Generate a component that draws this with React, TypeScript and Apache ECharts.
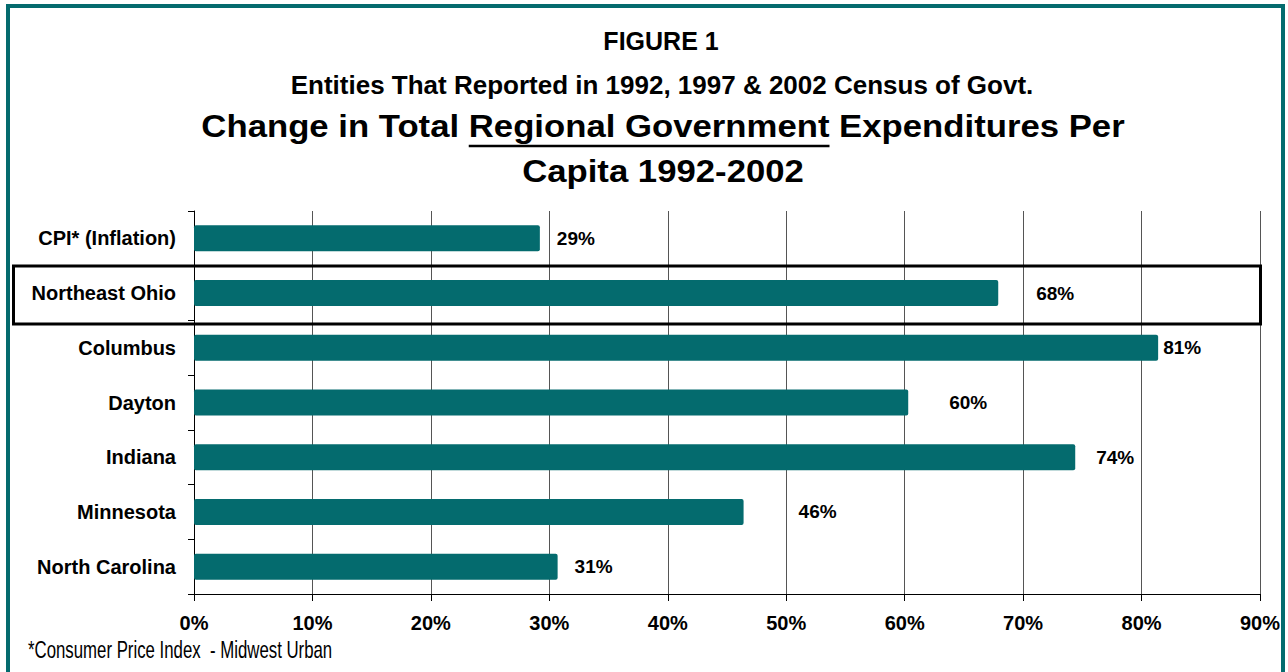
import React, { useEffect, useRef } from "react";
import * as echarts from "echarts";

const categories = [
  "CPI* (Inflation)",
  "Northeast Ohio",
  "Columbus",
  "Dayton",
  "Indiana",
  "Minnesota",
  "North Carolina",
];
const changePct = [29.2, 67.9, 81.4, 60.3, 74.4, 46.4, 30.7];
const labelGaps = [17, 38, 5, 41, 21, 55, 17];
const axisMin = 0;
const axisMax = 90;
const axisStep = 10;

const figureLabel = "FIGURE 1";
const subtitle = "Entities That Reported in 1992, 1997 & 2002 Census of Govt.";
const titlePrefix = "Change in Total ";
const titleUnderlined = "Regional Government";
const titleSuffix = " Expenditures Per";
const titleLine2 = "Capita 1992-2002";
const footnote = "*Consumer Price Index  - Midwest Urban";

const TEAL = "#046b6e";
const FONT = "'Liberation Sans', Arial, sans-serif";

function measure(text: string, size: number, weight: string) {
  const c = document.createElement("canvas").getContext("2d");
  if (!c) return text.length * size * 0.6;
  c.font = `${weight} ${size}px ${FONT}`;
  return c.measureText(text).width;
}

export default function App() {
  const ref = useRef<HTMLDivElement>(null);
  useEffect(() => {
    document.body.style.margin = "0";
    if (!ref.current) return;
    const chart = echarts.init(ref.current, undefined, { renderer: "svg" });

    const cx = 663;
    const tSize = 31;
    const tScale = 1.12;
    const line1 = titlePrefix + titleUnderlined + titleSuffix;
    const fullW = measure(line1, tSize, "bold");
    const preW = measure(titlePrefix, tSize, "bold");
    const undW = measure(titleUnderlined, tSize, "bold");
    const ux1 = cx + (preW - fullW / 2) * tScale;
    const ux2 = ux1 + undW * tScale;

    const textEl = (
      text: string,
      x: number,
      y: number,
      size: number,
      weight: string,
      scaleX: number,
      align: string
    ) => ({
      type: "text",
      x,
      y,
      scaleX,
      z: 20,
      style: {
        text,
        fontSize: size,
        fontWeight: weight,
        fontFamily: FONT,
        fill: "#000",
        align,
        textAlign: align,
        verticalAlign: "middle",
        textVerticalAlign: "middle",
      },
    });

    chart.setOption({
      animation: false,
      backgroundColor: "#fff",
      grid: { left: 194, right: 28, top: 211, bottom: 78, containLabel: false },
      xAxis: {
        type: "value",
        min: axisMin,
        max: axisMax,
        interval: axisStep,
        axisLine: { show: true, lineStyle: { color: "#000", width: 1 } },
        axisTick: { show: true, length: 7, lineStyle: { color: "#000" } },
        axisLabel: {
          formatter: "{value}%",
          fontSize: 20,
          fontWeight: "bold",
          fontFamily: FONT,
          color: "#000",
          margin: 19,
        },
        splitLine: { show: true, lineStyle: { color: "#555", width: 1 } },
      },
      yAxis: {
        type: "category",
        inverse: true,
        data: categories,
        axisLine: { show: true, lineStyle: { color: "#000", width: 1 } },
        axisTick: { show: true, length: 6, lineStyle: { color: "#000" } },
        axisLabel: {
          fontSize: 20,
          fontWeight: "bold",
          fontFamily: FONT,
          color: "#000",
          margin: 18,
        },
      },
      series: [
        {
          type: "bar",
          barWidth: 26,
          itemStyle: { color: TEAL, borderRadius: 2 },
          label: {
            show: true,
            position: "right",
            fontSize: 19,
            fontWeight: "bold",
            fontFamily: FONT,
            color: "#000",
            formatter: (p: any) => `${Math.round(p.value)}%`,
          },
          data: changePct.map((v, i) => ({
            value: v,
            label: { distance: labelGaps[i] },
          })),
        },
      ],
      graphic: [
        textEl(figureLabel, 661, 41, 25, "bold", 1, "center"),
        textEl(subtitle, 662, 85, 25, "bold", 1.04, "center"),
        textEl(line1, cx, 126, tSize, "bold", tScale, "center"),
        textEl(titleLine2, cx, 171, tSize, "bold", tScale, "center"),
        {
          type: "line",
          z: 20,
          shape: { x1: ux1, y1: 146, x2: ux2, y2: 146 },
          style: { stroke: "#000", lineWidth: 2.5 },
        },
        textEl(footnote, 28, 649, 24, "normal", 0.7, "left"),
        {
          type: "rect",
          z: 50,
          shape: { x: 13.5, y: 266, width: 1247, height: 58 },
          style: { fill: "none", stroke: "#000", lineWidth: 3 },
        },
        {
          type: "rect",
          z: 100,
          shape: { x: 8, y: 6, width: 1275, height: 720 },
          style: { fill: "none", stroke: TEAL, lineWidth: 4 },
        },
      ],
    });
    return () => chart.dispose();
  }, []);
  return <div ref={ref} style={{ width: 1288, height: 672 }} />;
}
